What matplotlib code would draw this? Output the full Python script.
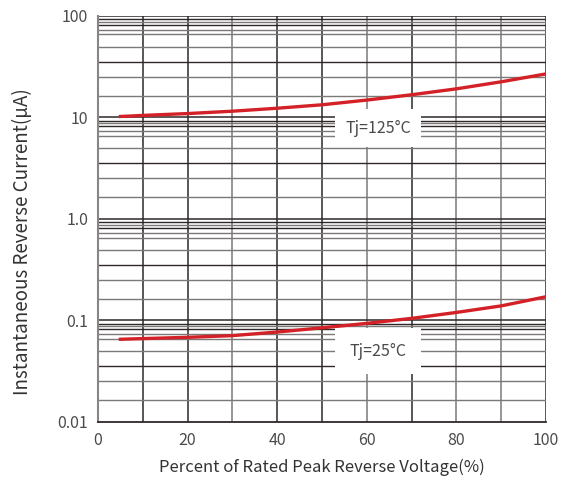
import numpy as np
import matplotlib
matplotlib.use("Agg")
import matplotlib.pyplot as plt
from matplotlib.ticker import FixedLocator, NullFormatter

plt.rcParams['font.family'] = ['Noto Sans CJK SC', 'DejaVu Sans']

# data
pct = [5, 10, 20, 30, 40, 50, 60, 70, 80, 90, 100]
ir_125 = [10.2, 10.45, 10.9, 11.5, 12.3, 13.3, 14.8, 16.7, 19.1, 22.4, 26.8]
ir_25 = [0.0652, 0.0662, 0.0681, 0.0708, 0.0768, 0.0845, 0.0935, 0.1047, 0.1198, 0.139, 0.171]

y_ticks = [0.01, 0.1, 1, 10, 100]
y_labels = ['0.01', '0.1', '1.0', '10', '100']
x_ticks = [0, 20, 40, 60, 80, 100]

# the printed grid is not a true log grid; positions within a decade (x decade start)
grid_mult = [9.3, 8.75, 8.15, 7.3, 6.55, 4.97, 3.54, 2.52, 1.64]
grid_dark = [True, False, True, False, False, False, True, False, False]
vgrid_dark = [True, True, False, True, True, False, True, False, False, True]

DARK = '#2e2828'
GRAY = '#7d7878'

fig = plt.figure(figsize=(5.74, 4.8), dpi=100)
ax = fig.add_axes([0.1707, 0.121, 0.7805, 0.846])

ax.set_yscale('log')
ax.set_xlim(0, 100)
ax.set_ylim(0.01, 100)

for i, xv in enumerate(range(10, 101, 10)):
    ax.axvline(xv, color=DARK if vgrid_dark[i] else GRAY, lw=1.1, zorder=1)
for dec in [0.01, 0.1, 1, 10]:
    for m, dk in zip(grid_mult, grid_dark):
        ax.axhline(dec * m, color=DARK if dk else GRAY, lw=1.0, zorder=1)
for yv in y_ticks[1:]:
    ax.axhline(yv, color=DARK, lw=1.1, zorder=1)

ax.plot(pct, ir_125, color='#d42127', lw=2.4, zorder=3)
ax.plot(pct, ir_25, color='#d42127', lw=2.4, zorder=3)

ax.text(62.5, 7.8, 'Tj=125°C', fontsize=11.5, color='#4a4a4a',
        ha='center', va='center', zorder=4,
        bbox=dict(boxstyle='square,pad=0.65', facecolor='white', edgecolor='none'))
ax.text(62.5, 0.0497, 'Tj=25°C', fontsize=11.5, color='#4a4a4a',
        ha='center', va='center', zorder=4,
        bbox=dict(boxstyle='square,pad=0.9', facecolor='white', edgecolor='none'))

ax.yaxis.set_major_locator(FixedLocator(y_ticks))
ax.yaxis.set_minor_formatter(NullFormatter())
ax.set_yticklabels(y_labels)
ax.set_xticks(x_ticks)
ax.tick_params(which='both', length=0, labelsize=11.5, labelcolor='#4a4a4a', pad=7)

for side in ['top', 'right']:
    ax.spines[side].set_visible(False)
ax.spines['left'].set_color('#8a8585')
ax.spines['left'].set_linewidth(1.5)
ax.spines['bottom'].set_color(DARK)
ax.spines['bottom'].set_linewidth(1.3)

ax.set_xlabel('Percent of Rated Peak Reverse Voltage(%)', fontsize=12, color='#333333', labelpad=7)
ax.set_ylabel('Instantaneous Reverse Current(μA)', fontsize=13.5, color='#333333', labelpad=18)
ax.yaxis.label.set_y(0.443)

fig.savefig('out.png', dpi=100)
